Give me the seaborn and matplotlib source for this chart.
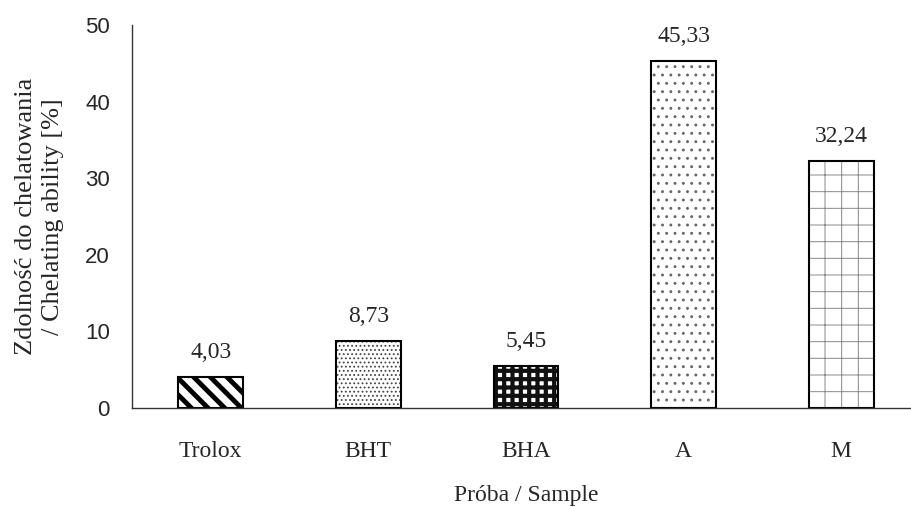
import pandas as pd
import matplotlib
matplotlib.use("Agg")
import matplotlib.pyplot as plt
import seaborn as sns
from matplotlib.colors import to_rgba

samples = ["Trolox", "BHT", "BHA", "A", "M"]
chelating = [4.03, 8.73, 5.45, 45.33, 32.24]
hatches = ["\\\\", "....", "++", "..", "+"]
hatch_widths = [3.5, 0.8, 3.0, 0.9, 0.7]
hatch_colors = ["black", "#444444", "#111111", "#666666", "#888888"]

df = pd.DataFrame({"sample": samples, "value": chelating})

sns.set_style("white")
serif = ["Liberation Serif", "DejaVu Serif"]
sans = ["Liberation Sans", "DejaVu Sans"]
plt.rcParams["font.family"] = serif

fig = plt.figure(figsize=(9.11, 5.07), dpi=100)
ax = fig.add_axes([132 / 911, 99 / 507, 788 / 911, 383 / 507])

sns.barplot(data=df, x="sample", y="value", color="white", width=0.41,
            edgecolor="black", linewidth=1.5, ax=ax)

for p, h, lw, hc in zip(ax.patches, hatches, hatch_widths, hatch_colors):
    p.set_hatch(h)
    p.set_facecolor("white")
    p.set_edgecolor("black")
    if hasattr(p, "set_hatch_linewidth"):
        p.set_hatch_linewidth(lw)
    if hasattr(p, "set_hatchcolor"):
        p.set_hatchcolor(hc)
    else:
        # older matplotlib ties hatch colour to the edge colour
        p._hatch_color = to_rgba(hc)

labels = [f"{v:.2f}".replace(".", ",") for v in chelating]
ax.bar_label(ax.containers[0], labels=labels, padding=10, fontsize=17,
             family=serif)

ax.set_ylim(0, 50)
ax.set_xlim(-0.5, 4.5)
ax.set_yticks([0, 10, 20, 30, 40, 50])
ax.set_yticklabels(["0", "10", "20", "30", "40", "50"], family=sans, fontsize=16)
ax.set_xticks(range(len(samples)))
ax.set_xticklabels(samples, family=serif, fontsize=17)
ax.set_xticks([0.5, 1.5, 2.5, 3.5], minor=True)
ax.tick_params(axis="x", which="major", length=0, pad=23.5)
ax.tick_params(axis="x", which="minor", length=5, width=1, direction="out", color="black")
ax.tick_params(axis="y", length=6.5, width=1, direction="out", color="black", pad=9.5)

for s in ["top", "right"]:
    ax.spines[s].set_visible(False)
for s in ["left", "bottom"]:
    ax.spines[s].set_color("#333333")
    ax.spines[s].set_linewidth(1)

ax.set_xlabel("Próba / Sample", fontsize=17, family=serif, labelpad=17)
ax.set_ylabel("Zdolność do chelatowania\n/ Chelating ability [%]", fontsize=19,
              family=serif, labelpad=15, linespacing=1.3)

fig.savefig("out.png", dpi=100)
